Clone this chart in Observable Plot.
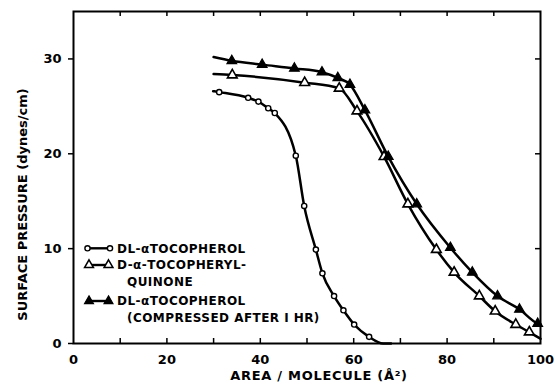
<!DOCTYPE html>
<html>
<head>
<meta charset="utf-8">
<script src="https://cdn.jsdelivr.net/npm/d3@7"></script>
<script src="https://cdn.jsdelivr.net/npm/@observablehq/plot@0.6"></script>
<style>
  html, body { margin: 0; padding: 0; background: #fff; }
  svg { display: block; }
</style>
</head>
<body>
<div id="chart"></div>
<script>
// ---- data ----
// DL-α-tocopherol (open circles)
const tocX      = [29.9, 31.2, 37.4, 39.6, 41.7, 43.1, 47.6, 49.4, 51.9, 53.3, 55.8, 57.8, 60.1, 63.3, 66.3, 68.0];
const tocY      = [26.6, 26.5, 25.9, 25.5, 24.8, 24.3, 19.8, 14.5, 9.9, 7.4, 5.0, 3.5, 2.0, 0.7, 0.0, 0.0];
const tocMarker = [0, 1, 1, 1, 1, 1, 1, 1, 1, 1, 1, 1, 1, 1, 0, 0];
// D-α-tocopherylquinone (open triangles)
const quiX      = [30.0, 34.0, 49.5, 56.9, 60.7, 66.5, 71.6, 77.7, 81.5, 86.9, 90.3, 94.7, 97.6, 100.0];
const quiY      = [28.4, 28.3, 27.5, 26.9, 24.5, 19.7, 14.7, 9.9, 7.5, 5.0, 3.4, 2.0, 1.2, 0.5];
const quiMarker = [0, 1, 1, 1, 1, 1, 1, 1, 1, 1, 1, 1, 1, 0];
// DL-α-tocopherol compressed after 1 hr (filled triangles)
const cmpX      = [30.0, 33.9, 40.4, 47.3, 53.2, 56.6, 59.2, 62.4, 67.4, 73.5, 80.7, 85.4, 90.8, 95.5, 99.4, 100.0];
const cmpY      = [30.2, 29.8, 29.4, 29.0, 28.6, 28.0, 27.3, 24.6, 19.7, 14.7, 10.1, 7.5, 5.0, 3.6, 2.1, 2.0];
const cmpMarker = [0, 1, 1, 1, 1, 1, 1, 1, 1, 1, 1, 1, 1, 1, 1, 0];

const xTickLabels = [0, 20, 40, 60, 80, 100];
const xMinorTicks = [10, 20, 30, 40, 50, 60, 70, 80, 90];
const yTickLabels = [0, 10, 20, 30];
const yInnerTicks = [10, 20, 30];

const xLabel = "AREA / MOLECULE (Å²)";
const yLabel = "SURFACE PRESSURE (dynes/cm)";
const legendLabels = [
  ["DL-αTOCOPHEROL"],
  ["D-α-TOCOPHERYL-", "QUINONE"],
  ["DL-αTOCOPHEROL", "(COMPRESSED AFTER I HR)"]
];

const toRows = (xs, ys, ms) => xs.map((x, i) => ({x, y: ys[i], m: ms[i]}));
const toc = toRows(tocX, tocY, tocMarker);
const qui = toRows(quiX, quiY, quiMarker);
const cmp = toRows(cmpX, cmpY, cmpMarker);

const W = 555, H = 388;
const mL = 73, mR = 15, mT = 11, mB = 45;
const innerW = W - mL - mR, innerH = H - mT - mB;
const tick = 5;
const triR = 3.6, dotR = 2.6;

const lineOpts = {x: "x", y: "y", stroke: "black", strokeWidth: 2.5, curve: "monotone-x"};

const plot = Plot.plot({
  width: W, height: H,
  marginLeft: mL, marginRight: mR, marginTop: mT, marginBottom: mB,
  style: {fontFamily: "DejaVu Sans", fontWeight: "bold", fontSize: "13px", color: "black", background: "white"},
  x: {domain: [0, 100]},
  y: {domain: [0, 35]},
  marks: [
    Plot.frame({stroke: "black", strokeWidth: 2}),
    Plot.axisY({ticks: yTickLabels, tickSize: tick, tickPadding: 7, tickFormat: d => d, label: null, strokeWidth: 1.5}),
    Plot.axisX({ticks: xTickLabels, tickSize: 0, tickPadding: 11, tickFormat: d => d, label: null}),
    // inward ticks on bottom, top and right
    Plot.tickX(xMinorTicks, {x: d => d, insetTop: innerH - tick, stroke: "black", strokeWidth: 1.5}),
    Plot.tickX(xMinorTicks, {x: d => d, insetBottom: innerH - tick, stroke: "black", strokeWidth: 1.5}),
    Plot.tickY(yInnerTicks, {y: d => d, insetLeft: innerW - tick, stroke: "black", strokeWidth: 1.5}),
    // curves
    Plot.line(toc, lineOpts),
    Plot.line(qui, lineOpts),
    Plot.line(cmp, lineOpts),
    // markers
    Plot.dot(toc.filter(d => d.m), {x: "x", y: "y", r: dotR, fill: "white", stroke: "black", strokeWidth: 1.4}),
    Plot.dot(qui.filter(d => d.m), {x: "x", y: "y", symbol: "triangle", r: triR, fill: "white", stroke: "black", strokeWidth: 1.6}),
    Plot.dot(cmp.filter(d => d.m), {x: "x", y: "y", symbol: "triangle", r: triR, fill: "black", stroke: "black", strokeWidth: 1.2}),
    // axis titles
    Plot.text([xLabel], {frameAnchor: "bottom", dx: 12, dy: 36, fontSize: 13, fontWeight: "bold"}),
    Plot.text([yLabel], {frameAnchor: "left", textAnchor: "middle", rotate: -90, dx: -51, dy: 27, fontSize: 13, fontWeight: "bold"})
  ]
});

document.getElementById("chart").appendChild(plot);
plot.querySelectorAll("text").forEach(t => {
  if (t.textContent === xLabel) t.setAttribute("letter-spacing", "0.7");
});

// ---- legend (inside the plot area, lower left) ----
const svg = d3.select(plot);
const g = svg.append("g").attr("class", "legend")
  .attr("font-family", "DejaVu Sans").attr("font-weight", "bold").attr("font-size", 12)
  .attr("letter-spacing", 0.45).attr("text-anchor", "start");
const rowsY = [248.3, 265, 301];
const tx = 117, tx2 = 127;
const tri = d3.symbol(d3.symbolTriangle, Math.PI * (triR - 0.3) * (triR - 0.3))();
const kinds = ["circle", "open", "filled"];
kinds.forEach((k, i) => {
  const y = rowsY[i];
  const xa = k === "circle" ? 87.5 : 89, xb = k === "circle" ? 110 : 108.5;
  g.append("line").attr("x1", xa).attr("x2", xb).attr("y1", y).attr("y2", y)
    .attr("stroke", "black").attr("stroke-width", 2.4);
  [xa, xb].forEach(x => {
    if (k === "circle") {
      g.append("circle").attr("cx", x).attr("cy", y).attr("r", dotR)
        .attr("fill", "white").attr("stroke", "black").attr("stroke-width", 1.4);
    } else {
      g.append("path").attr("d", tri).attr("transform", `translate(${x},${y})`)
        .attr("fill", k === "filled" ? "black" : "white").attr("stroke", "black")
        .attr("stroke-width", k === "filled" ? 1.2 : 1.5);
    }
  });
  legendLabels[i].forEach((t, j) => {
    g.append("text").attr("x", j === 0 ? tx : tx2).attr("y", y + j * 16.5)
      .attr("dy", "0.35em").text(t);
  });
});
</script>
</body>
</html>
